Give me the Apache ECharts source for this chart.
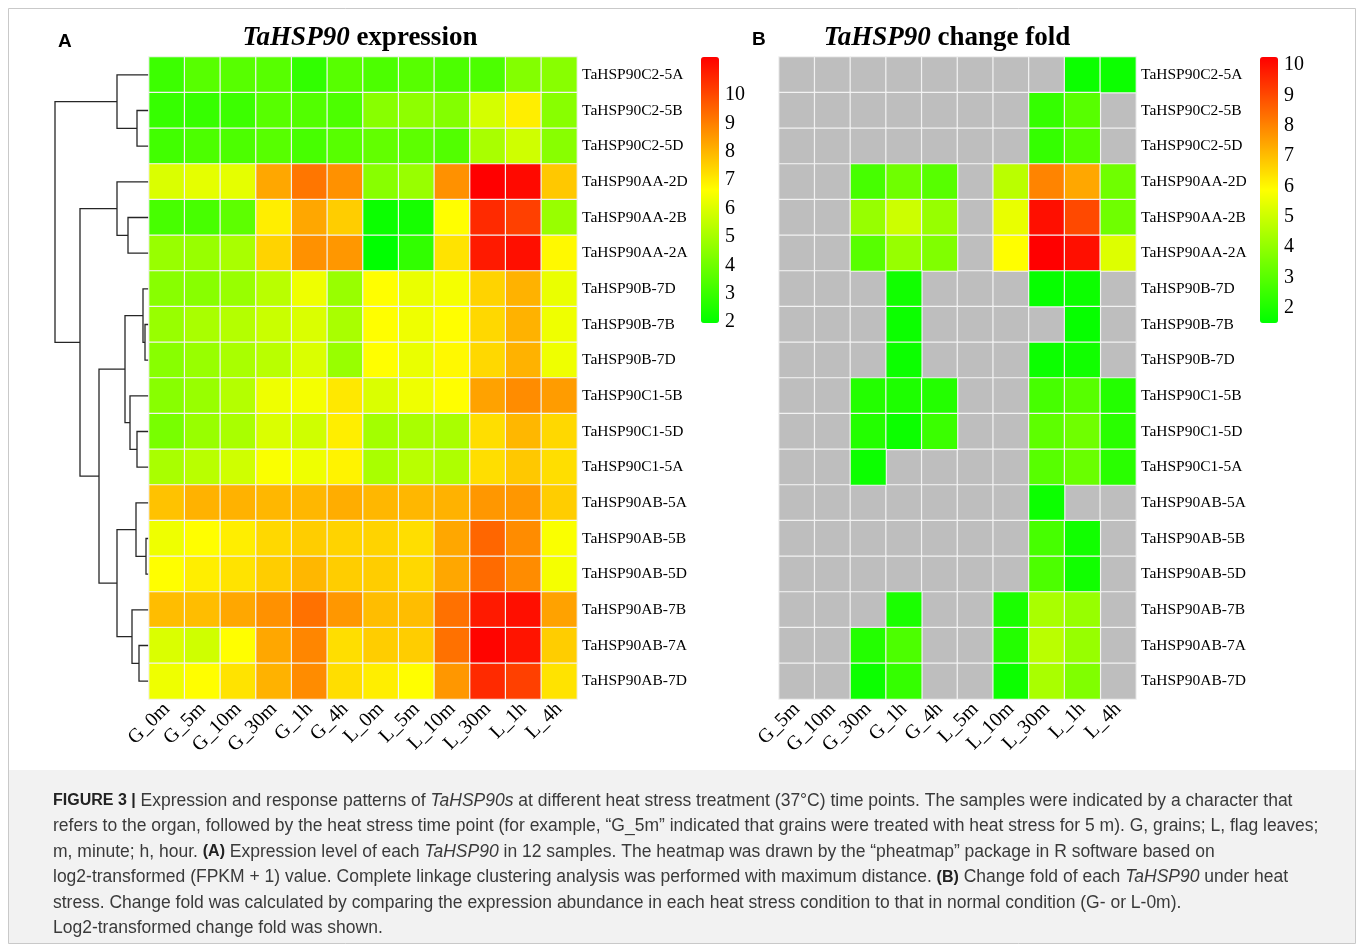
<!DOCTYPE html>
<html>
<head>
<meta charset="utf-8">
<script src="https://cdn.jsdelivr.net/npm/echarts@6/dist/echarts.min.js"></script>
<style>
  html, body { margin: 0; background: #fff; }
  #chart { width: 1357px; height: 945px; }
</style>
</head>
<body>
<div id="chart"></div>
<script>
// rows, top to bottom (dendrogram leaf order)
const genes = [
  'TaHSP90C2-5A', 'TaHSP90C2-5B', 'TaHSP90C2-5D',
  'TaHSP90AA-2D', 'TaHSP90AA-2B', 'TaHSP90AA-2A',
  'TaHSP90B-7D', 'TaHSP90B-7B', 'TaHSP90B-7D',
  'TaHSP90C1-5B', 'TaHSP90C1-5D', 'TaHSP90C1-5A',
  'TaHSP90AB-5A', 'TaHSP90AB-5B', 'TaHSP90AB-5D',
  'TaHSP90AB-7B', 'TaHSP90AB-7A', 'TaHSP90AB-7D',
];
const samplesA = ['G_0m', 'G_5m', 'G_10m', 'G_30m', 'G_1h', 'G_4h', 'L_0m', 'L_5m', 'L_10m', 'L_30m', 'L_1h', 'L_4h'];
const samplesB = ['G_5m', 'G_10m', 'G_30m', 'G_1h', 'G_4h', 'L_5m', 'L_10m', 'L_30m', 'L_1h', 'L_4h'];

// log2(FPKM + 1), one row per gene
const expression = [
  [3.0, 3.5, 3.5, 3.5, 2.8, 3.5, 3.3, 3.5, 3.3, 3.3, 4.3, 4.4],
  [2.9, 2.9, 3.0, 3.5, 3.4, 3.3, 4.4, 4.5, 4.3, 5.8, 6.9, 4.4],
  [3.1, 3.3, 3.3, 3.5, 3.2, 3.5, 3.7, 3.6, 3.4, 5.0, 5.7, 4.4],
  [5.9, 6.1, 6.1, 8.2, 9.1, 8.6, 4.4, 4.7, 8.6, 11.3, 11.1, 7.6],
  [3.2, 3.2, 3.6, 6.9, 8.2, 7.5, 2.1, 2.3, 6.6, 10.5, 10.1, 4.7],
  [4.7, 4.7, 5.0, 7.4, 8.6, 8.5, 1.9, 2.8, 7.1, 10.8, 11.0, 6.7],
  [4.4, 4.4, 4.7, 5.3, 6.3, 4.7, 6.6, 6.2, 6.4, 7.4, 8.0, 6.2],
  [4.7, 5.0, 5.2, 5.6, 5.9, 5.0, 6.6, 6.3, 6.6, 7.3, 8.0, 6.3],
  [4.4, 4.7, 5.0, 5.3, 5.9, 4.7, 6.6, 6.2, 6.7, 7.3, 8.0, 6.3],
  [4.4, 4.7, 5.2, 6.3, 6.4, 7.0, 5.9, 6.3, 6.6, 8.3, 8.7, 8.4],
  [4.1, 4.7, 5.0, 5.9, 5.7, 6.9, 4.9, 5.0, 5.0, 7.2, 7.9, 7.3],
  [5.0, 5.3, 5.7, 6.5, 6.3, 6.8, 5.0, 5.3, 5.1, 7.2, 7.6, 7.2],
  [7.7, 8.0, 8.0, 7.9, 7.9, 8.1, 7.9, 7.9, 8.0, 8.5, 8.5, 7.5],
  [6.3, 6.6, 6.9, 7.3, 7.5, 7.4, 7.4, 7.2, 8.2, 9.4, 8.7, 6.5],
  [6.6, 6.9, 7.1, 7.5, 7.9, 7.5, 7.5, 7.3, 8.2, 9.3, 8.7, 6.4],
  [7.8, 7.8, 8.2, 8.6, 9.2, 8.5, 7.8, 7.8, 9.2, 10.8, 11.0, 8.3],
  [5.9, 5.7, 6.6, 8.2, 8.8, 7.2, 7.5, 7.5, 9.2, 11.2, 10.9, 7.5],
  [6.3, 6.6, 7.1, 8.0, 8.7, 7.2, 6.9, 6.6, 8.5, 10.5, 10.1, 7.1],
];

// log2 change fold, null = not shown (grey)
const n = null;
const changeFold = [
  [n, n, n, n, n, n, n, n, 1.7, 1.7],
  [n, n, n, n, n, n, n, 2.4, 3.0, n],
  [n, n, n, n, n, n, n, 2.4, 2.9, n],
  [n, n, 2.7, 3.4, 3.0, n, 4.7, 8.0, 7.4, 3.4],
  [n, n, 4.1, 5.0, 4.1, n, 5.5, 10.0, 9.0, 3.4],
  [n, n, 3.0, 4.1, 3.7, n, 5.9, 10.3, 10.0, 5.3],
  [n, n, n, 1.8, n, n, n, 1.6, 1.7, n],
  [n, n, n, 1.7, n, n, n, n, 1.6, n],
  [n, n, n, 1.7, n, n, n, 1.7, 1.8, n],
  [n, n, 2.1, 2.0, 2.1, n, n, 2.7, 3.0, 2.1],
  [n, n, 2.1, 1.7, 2.5, n, n, 3.1, 3.4, 2.2],
  [n, n, 1.7, n, n, n, n, 3.0, 3.3, 2.2],
  [n, n, n, n, n, n, n, 1.7, n, n],
  [n, n, n, n, n, n, n, 2.7, 1.8, n],
  [n, n, n, n, n, n, n, 2.8, 1.8, n],
  [n, n, n, 1.95, n, n, 1.95, 4.4, 4.1, n],
  [n, n, 2.1, 2.8, n, n, 2.1, 4.7, 4.1, n],
  [n, n, 1.7, 2.4, n, n, 1.7, 4.4, 3.7, n],
];

// hclust-style merges: negative = leaf (1-based row), positive = earlier merge step
const merges = [
  [-14, -15, 0.3], [-8, -9, 0.4], [-7, 2, 0.6], [-17, -18, 1.0],
  [-2, -3, 1.2], [-11, -12, 1.2], [-13, 1, 1.3], [-16, 4, 1.7],
  [-10, 6, 1.9], [-5, -6, 2.1], [3, 9, 2.4], [-1, 5, 3.2],
  [-4, 10, 3.2], [7, 8, 3.2], [11, 14, 5.0], [13, 15, 6.9],
  [12, 16, 9.4],
];

const legendTicksA = [2, 3, 4, 5, 6, 7, 8, 9, 10];
const legendTicksB = [2, 3, 4, 5, 6, 7, 8, 9, 10];
const rangeA = [1.9, 11.27];
const rangeB = [1.5, 10.26];

const serif = 'Liberation Serif, Times New Roman, serif';
const sans = 'Liberation Sans, Arial, sans-serif';
const ramp = ['#00ff00', '#ffff00', '#ff0000'];

function toCells(matrix) {
  const out = [];
  matrix.forEach((row, r) => row.forEach((v, c) => { if (v != null) out.push([c, r, v]); }));
  return out;
}
function naCells(matrix) {
  const out = [];
  matrix.forEach((row, r) => row.forEach((v, c) => { if (v == null) out.push([c, r, 0]); }));
  return out;
}

function dendroSegments() {
  const pos = [];
  const hgt = [];
  const segs = [];
  const info = (c) => (c < 0 ? { y: -c - 1, h: 0 } : { y: pos[c - 1], h: hgt[c - 1] });
  merges.forEach(([a, b, h], i) => {
    const A = info(a);
    const B = info(b);
    pos[i] = (A.y + B.y) / 2;
    hgt[i] = h;
    segs.push({ coords: [[A.h, A.y], [h, A.y], [h, B.y], [B.h, B.y]] });
  });
  return segs;
}
const maxHeight = Math.max(...merges.map((m) => m[2]));

const cellStyle = { borderColor: '#f2f2f2', borderWidth: 1.2 };
const rowAxis = () => ({
  type: 'category', data: genes, inverse: true, position: 'right',
  axisLine: { show: false }, axisTick: { show: false },
  axisLabel: { color: '#000', fontFamily: serif, fontSize: 15.5, margin: 5 },
});
const colAxis = (data) => ({
  type: 'category', data,
  axisLine: { show: false }, axisTick: { show: false },
  axisLabel: { color: '#000', fontFamily: serif, fontSize: 20, rotate: 45, margin: 7, interval: 0 },
});
const legendAxis = (range, ticks) => ({
  type: 'value', min: range[0], max: range[1], position: 'right',
  axisLine: { show: false }, axisTick: { show: false }, splitLine: { show: false },
  axisLabel: { color: '#000', fontFamily: serif, fontSize: 20, margin: 6, customValues: ticks },
});

const capSize = 17.5;
const captionRich = {
  b: { fontWeight: 'bold', fontFamily: sans, fontSize: 16, fill: '#222' },
  i: { fontStyle: 'italic', fontFamily: sans, fontSize: capSize, fill: '#3a3a3a' },
};
const captionLines = [
  '{b|FIGURE 3 |} Expression and response patterns of {i|TaHSP90s} at different heat stress treatment (37°C) time points. The samples were indicated by a character that',
  'refers to the organ, followed by the heat stress time point (for example, “G_5m” indicated that grains were treated with heat stress for 5 m). G, grains; L, flag leaves;',
  'm, minute; h, hour. {b|(A)} Expression level of each {i|TaHSP90} in 12 samples. The heatmap was drawn by the “pheatmap” package in R software based on',
  'log2-transformed (FPKM + 1) value. Complete linkage clustering analysis was performed with maximum distance. {b|(B)} Change fold of each {i|TaHSP90} under heat',
  'stress. Change fold was calculated by comparing the expression abundance in each heat stress condition to that in normal condition (G- or L-0m).',
  'Log2-transformed change fold was shown.',
];

const titleRich = { i: { fontStyle: 'italic', fontWeight: 'bold', fontFamily: serif, fontSize: 27, fill: '#000' } };
const titleText = (x, text) => ({
  type: 'text', x, y: 38, z: 10,
  style: { text, rich: titleRich, fontWeight: 'bold', fontFamily: serif, fontSize: 27, fill: '#000', align: 'center', verticalAlign: 'middle' },
});

const chart = echarts.init(document.getElementById('chart'));
chart.setOption({
  animation: false,
  backgroundColor: '#fff',
  grid: [
    { left: 149 - 94, top: 57, width: 94, height: 642 },
    { left: 149, top: 57, width: 428, height: 642 },
    { left: 779, top: 57, width: 357, height: 642 },
    { left: 701, top: 59, width: 18, height: 266 },
    { left: 1260, top: 57, width: 18, height: 266 },
  ],
  xAxis: [
    { gridIndex: 0, type: 'value', min: 0, max: maxHeight, inverse: true, show: false },
    { gridIndex: 1, ...colAxis(samplesA) },
    { gridIndex: 2, ...colAxis(samplesB) },
    { gridIndex: 3, type: 'value', show: false },
    { gridIndex: 4, type: 'value', show: false },
  ],
  yAxis: [
    { gridIndex: 0, type: 'value', min: -0.5, max: genes.length - 0.5, inverse: true, show: false },
    { gridIndex: 1, ...rowAxis() },
    { gridIndex: 2, ...rowAxis() },
    { gridIndex: 3, ...legendAxis(rangeA, legendTicksA) },
    { gridIndex: 4, ...legendAxis(rangeB, legendTicksB) },
  ],
  visualMap: [
    {
      type: 'continuous', seriesIndex: 1, min: rangeA[0], max: rangeA[1], calculable: false,
      left: 701, top: 57, itemWidth: 18, itemHeight: 266, padding: 0, text: null, hoverLink: false,
      inRange: { color: ramp },
    },
    {
      type: 'continuous', seriesIndex: 3, min: rangeB[0], max: rangeB[1], calculable: false,
      left: 1260, top: 57, itemWidth: 18, itemHeight: 266, padding: 0, text: null, hoverLink: false,
      inRange: { color: ramp },
    },
  ],
  series: [
    {
      type: 'lines', coordinateSystem: 'cartesian2d', xAxisIndex: 0, yAxisIndex: 0,
      polyline: true, silent: true, data: dendroSegments(),
      lineStyle: { color: '#262626', width: 1.3, opacity: 1 },
    },
    {
      type: 'heatmap', xAxisIndex: 1, yAxisIndex: 1, data: toCells(expression),
      itemStyle: cellStyle, emphasis: { disabled: true },
    },
    {
      type: 'heatmap', xAxisIndex: 2, yAxisIndex: 2, data: naCells(changeFold),
      itemStyle: { ...cellStyle, color: '#bebebe' }, emphasis: { disabled: true },
    },
    {
      type: 'heatmap', xAxisIndex: 2, yAxisIndex: 2, data: toCells(changeFold),
      itemStyle: cellStyle, emphasis: { disabled: true },
    },
  ],
  graphic: [
    { type: 'rect', z: -10, shape: { x: 8.5, y: 8.5, width: 1347, height: 935 }, style: { fill: 'none', stroke: '#c9c9c9', lineWidth: 1 } },
    { type: 'rect', z: -11, shape: { x: 9, y: 770, width: 1346, height: 173 }, style: { fill: '#f2f2f2' } },
    { type: 'text', x: 58, y: 42, z: 10, style: { text: 'A', fontFamily: sans, fontWeight: 'bold', fontSize: 19, fill: '#000', verticalAlign: 'middle' } },
    { type: 'text', x: 752, y: 40, z: 10, style: { text: 'B', fontFamily: sans, fontWeight: 'bold', fontSize: 19, fill: '#000', verticalAlign: 'middle' } },
    titleText(360, '{i|TaHSP90} expression'),
    titleText(947, '{i|TaHSP90} change fold'),
    ...captionLines.map((text, i) => ({
      type: 'text', x: 53, y: 801 + i * 25.5, z: 10,
      style: { text, rich: captionRich, fontFamily: sans, fontSize: capSize, fill: '#3a3a3a', verticalAlign: 'middle' },
    })),
  ],
});
</script>
</body>
</html>
